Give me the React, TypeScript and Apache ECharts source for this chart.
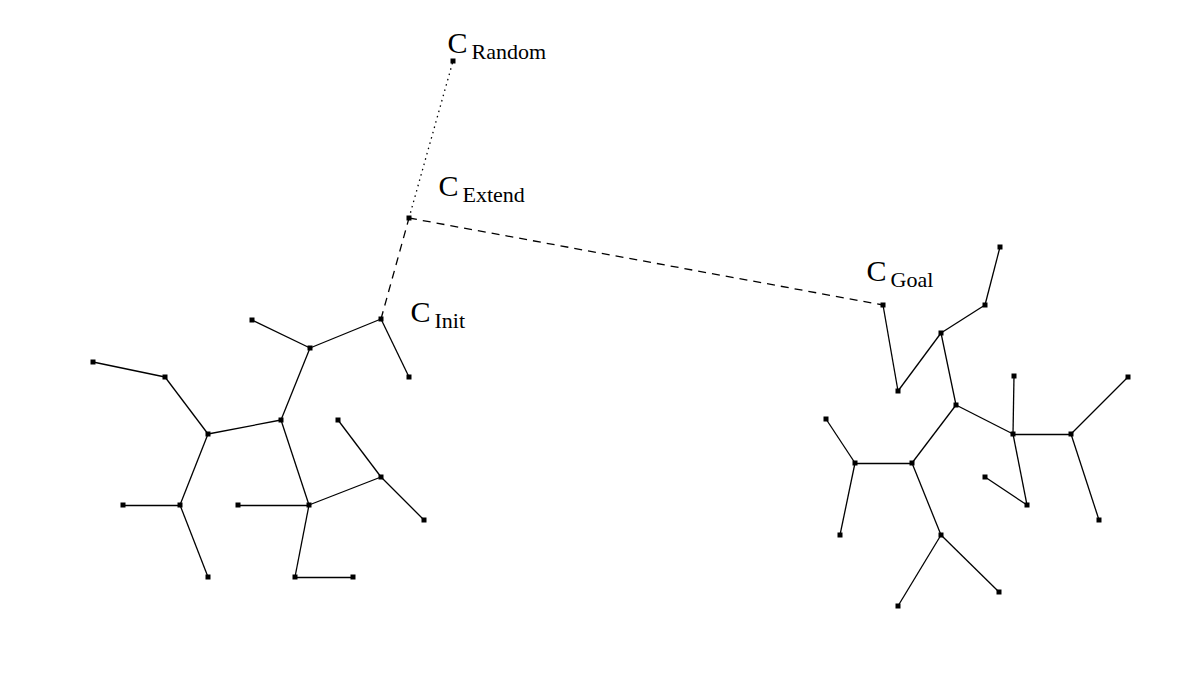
import React, { useEffect, useRef } from 'react';
import * as echarts from 'echarts';

// node name, x, y (pixel-like units, y downwards)
const nodes: [string, number, number][] = [
  ['Init', 381, 319], ['Extend', 409, 218], ['Random', 453, 61],
  ['D', 409, 377], ['E', 310, 348], ['F', 252, 320], ['G', 281, 420],
  ['H', 208, 434], ['I', 165, 377], ['J', 93, 362], ['K', 180, 505],
  ['L', 123, 505], ['M', 208, 577], ['N', 309, 505], ['O', 238, 505],
  ['P', 295, 577], ['Q', 353, 577], ['R', 381, 477], ['S', 338, 420],
  ['T', 424, 520],
  ['Goal', 883, 305], ['U', 898, 391], ['V', 941, 333], ['W', 985, 305],
  ['X', 1000, 247], ['Y', 956, 405], ['Z', 912, 463], ['a', 855, 463],
  ['b', 826, 419], ['c', 840, 535], ['d', 941, 535], ['e', 898, 606],
  ['f', 999, 592], ['g', 1013, 434], ['h', 1014, 376], ['i', 1071, 434],
  ['j', 1128, 377], ['k', 1099, 520], ['l', 1027, 505], ['m', 985, 477],
];

const solidEdges: [string, string][] = [
  ['Init', 'D'], ['Init', 'E'], ['E', 'F'], ['E', 'G'], ['G', 'H'], ['H', 'I'],
  ['I', 'J'], ['H', 'K'], ['K', 'L'], ['K', 'M'], ['G', 'N'], ['N', 'O'],
  ['N', 'P'], ['P', 'Q'], ['N', 'R'], ['R', 'S'], ['R', 'T'],
  ['Goal', 'U'], ['U', 'V'], ['V', 'W'], ['W', 'X'], ['V', 'Y'], ['Y', 'Z'],
  ['Z', 'a'], ['a', 'b'], ['a', 'c'], ['Z', 'd'], ['d', 'e'], ['d', 'f'],
  ['Y', 'g'], ['g', 'h'], ['g', 'i'], ['i', 'j'], ['i', 'k'], ['g', 'l'], ['l', 'm'],
];
const dashedEdges: [string, string][] = [['Init', 'Extend'], ['Extend', 'Goal']];
const dottedEdges: [string, string][] = [['Extend', 'Random']];

// label offsets relative to the node marker
const labelPos: Record<string, [number, number]> = {
  Init: [32, -25], Extend: [32, -50], Random: [-3, -36], Goal: [-14, -52],
};

const App: React.FC = () => {
  const chartRef = useRef<HTMLDivElement | null>(null);

  useEffect(() => {
    document.body.style.margin = '0';
    if (!chartRef.current) return;
    const chart = echarts.init(chartRef.current, undefined, { renderer: 'svg' });

    const data = nodes.map(([name, x, y]) => {
      const item: any = { name, value: [x, y] };
      if (labelPos[name]) {
        item.label = {
          show: true,
          position: labelPos[name],
          formatter: `{c|C}{s|${name}}`,
          rich: {
            c: { fontSize: 30, fontFamily: 'Liberation Serif', color: '#000' },
            s: { fontSize: 22, fontFamily: 'Liberation Serif', color: '#000', padding: [18, 0, 0, 4] },
          },
        };
      }
      return item;
    });

    const mk = (edges: [string, string][], type: any) =>
      edges.map(([source, target]) => ({ source, target, lineStyle: { type } }));

    chart.setOption({
      animation: false,
      grid: { left: 0, right: 0, top: 0, bottom: 0 },
      xAxis: { type: 'value', min: 0, max: 1194, show: false },
      yAxis: { type: 'value', min: 0, max: 681, inverse: true, show: false },
      series: [
        {
          type: 'graph',
          coordinateSystem: 'cartesian2d',
          symbol: 'rect',
          symbolSize: 5,
          itemStyle: { color: '#000' },
          lineStyle: { color: '#000', width: 1.3, opacity: 1 },
          label: { show: false },
          emphasis: { disabled: true },
          data,
          links: [
            ...mk(solidEdges, 'solid'),
            ...mk(dashedEdges, [8, 6]),
            ...mk(dottedEdges, [1.5, 4]),
          ],
        },
      ],
    });

    return () => chart.dispose();
  }, []);

  return <div ref={chartRef} style={{ width: 1194, height: 681 }} />;
};

export default App;
